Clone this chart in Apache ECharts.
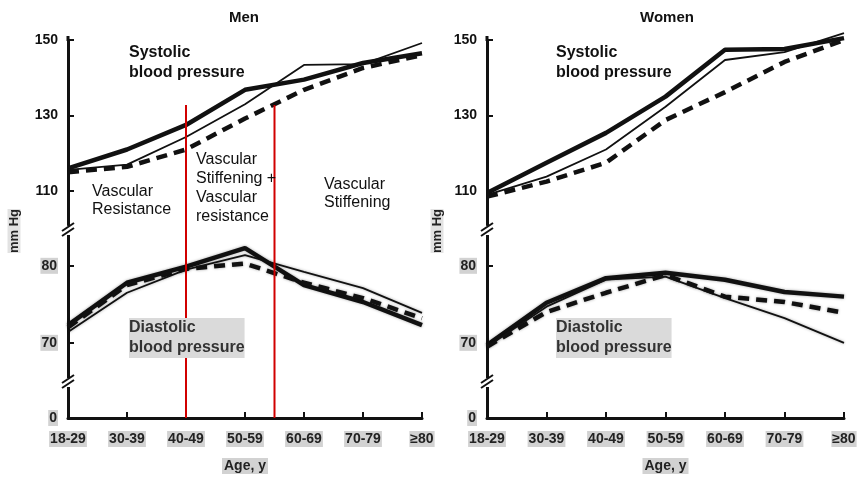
<!DOCTYPE html>
<html>
<head>
<meta charset="utf-8">
<script src="https://cdn.jsdelivr.net/npm/echarts@6/dist/echarts.min.js"></script>
<style>
  html, body { margin: 0; padding: 0; background: #fff; }
  #chart { width: 867px; height: 486px; }
</style>
</head>
<body>
<div id="chart"></div>
<script>
// age groups on the x axis
const ages = ["18-29", "30-39", "40-49", "50-59", "60-69", "70-79", "≥80"];

// Men, systolic (mm Hg)
const menSysThick = [116, 121, 127.5, 136.8, 139.5, 143.9, 146.5];
const menSysThin = [115.6, 117, 124.3, 133, 143.4, 143.6, 149.2];
const menSysDashed = [115, 116.4, 121, 129.2, 136.8, 142.6, 146];
// Men, diastolic
const menDiaThick = [72.3, 77.8, 79.9, 82.3, 77.5, 75.3, 72.3];
const menDiaThin = [71.4, 76.5, 79.5, 81.4, 79.2, 77.1, 73.9];
const menDiaDashed = [72, 77.5, 79.6, 80.3, 77.8, 75.8, 73.2];

// Women, systolic
const womenSysThick = [109.5, 117.5, 125.4, 135, 147.4, 147.6, 150.5];
const womenSysThin = [109, 113.8, 121, 132.3, 144.7, 146.8, 151.8];
const womenSysDashed = [108.5, 112.5, 117.5, 128.8, 136.2, 144.2, 150];
// Women, diastolic
const womenDiaThick = [69.7, 75.2, 78.4, 79.1, 78.2, 76.6, 76];
const womenDiaThin = [69.5, 74.7, 78.2, 78.6, 75.8, 73.2, 70];
const womenDiaDashed = [69.5, 74, 76.5, 78.8, 76, 75.3, 73.9];

// axis ticks
const sysTicks = [110, 130, 150];
const diaTicks = [70, 80];
const baseTicks = [0];

// red dividers in the men panel (category index) and their top value
const redLineAt = [2, 3.5];
const redLineTop = 132.8;

const INK = "#111";
const FONT = "Liberation Sans";
const LABEL_BG = "#d2d2d2";

const chartDom = document.getElementById("chart");
const myChart = echarts.init(chartDom);

// one panel = 3 stacked grids: systolic, diastolic, zero base
function panelGrids(left, right) {
  return [
    { left: left, right: right, top: 40, height: 185 },
    { left: left, right: right, top: 235, height: 142.5 },
    { left: left, right: right, top: 387, height: 31 },
  ];
}

function hiddenX(gridIndex) {
  return {
    gridIndex: gridIndex,
    type: "category",
    data: ages,
    boundaryGap: false,
    show: false,
  };
}

function baseX(gridIndex) {
  return {
    gridIndex: gridIndex,
    type: "category",
    data: ages,
    boundaryGap: false,
    name: "Age, y",
    nameLocation: "middle",
    nameGap: 40,
    nameTextStyle: {
      fontFamily: FONT,
      fontWeight: "bold",
      fontSize: 14,
      color: "#222",
      backgroundColor: LABEL_BG,
      padding: [1, 2],
    },
    axisLine: { show: true, lineStyle: { color: INK, width: 3 } },
    axisTick: {
      show: true,
      inside: true,
      length: 6,
      lineStyle: { color: INK, width: 2 },
    },
    axisLabel: {
      margin: 13,
      fontFamily: FONT,
      fontWeight: "bold",
      fontSize: 14,
      color: "#222",
      backgroundColor: LABEL_BG,
      padding: [1, 1],
    },
    splitLine: { show: false },
  };
}

function valueY(gridIndex, min, max, ticks, grey) {
  return {
    gridIndex: gridIndex,
    type: "value",
    min: min,
    max: max,
    axisLine: { show: true, lineStyle: { color: INK, width: 3 } },
    axisTick: {
      show: ticks.length > 0 && min !== 0,
      inside: true,
      length: 6,
      customValues: ticks,
      lineStyle: { color: INK, width: 2 },
    },
    axisLabel: {
      show: true,
      customValues: ticks,
      margin: 10,
      fontFamily: FONT,
      fontWeight: "bold",
      fontSize: 14,
      color: grey ? "#222" : INK,
      backgroundColor: grey ? LABEL_BG : "transparent",
      padding: grey ? [1, 1] : 0,
    },
    splitLine: { show: false },
  };
}

function line(name, data, gridIdx, style, dia) {
  const ls = { color: INK, width: 4.5, type: "solid" };
  if (style === "thin") ls.width = 1.8;
  if (style === "dashed") ls.type = [11, 7];
  if (dia) {
    ls.shadowColor = "rgba(0,0,0,0.35)";
    ls.shadowBlur = 3;
  }
  return {
    name: name,
    type: "line",
    xAxisIndex: gridIdx,
    yAxisIndex: gridIdx,
    data: data,
    showSymbol: false,
    symbol: "none",
    clip: false,
    lineStyle: ls,
    z: style === "thin" ? 4 : 3,
  };
}

const option = {
  animation: false,
  backgroundColor: "#fff",
  grid: [...panelGrids(68, 445), ...panelGrids(487, 23)],
  xAxis: [hiddenX(0), hiddenX(1), baseX(2), hiddenX(3), hiddenX(4), baseX(5)],
  yAxis: [
    valueY(0, 101, 150, sysTicks, false),
    valueY(1, 65.5, 84, diaTicks, true),
    valueY(2, 0, 10, baseTicks, true),
    valueY(3, 101, 150, sysTicks, false),
    valueY(4, 65.5, 84, diaTicks, true),
    valueY(5, 0, 10, baseTicks, true),
  ],
  series: [
    line("men sys thick", menSysThick, 0, "thick"),
    line("men sys thin", menSysThin, 0, "thin"),
    line("men sys dashed", menSysDashed, 0, "dashed"),
    line("men dia thick", menDiaThick, 1, "thick", true),
    line("men dia thin", menDiaThin, 1, "thin", true),
    line("men dia dashed", menDiaDashed, 1, "dashed", true),
    line("women sys thick", womenSysThick, 3, "thick"),
    line("women sys thin", womenSysThin, 3, "thin"),
    line("women sys dashed", womenSysDashed, 3, "dashed"),
    line("women dia thick", womenDiaThick, 4, "thick", true),
    line("women dia thin", womenDiaThin, 4, "thin", true),
    line("women dia dashed", womenDiaDashed, 4, "dashed", true),
  ],
};
myChart.setOption(option);

// ---- overlay: texts, axis breaks, red dividers ----
function txt(x, y, text, opts) {
  return {
    type: "text",
    x: x,
    y: y,
    z: 10,
    style: Object.assign(
      {
        text: text,
        fill: INK,
        fontFamily: FONT,
        fontSize: 16,
      },
      opts || {}
    ),
  };
}

function breakMark(x, y) {
  const marks = [];
  [0, 5].forEach((d) => {
    marks.push({
      type: "line",
      z: 11,
      shape: { x1: x - 6, y1: y + d + 3, x2: x + 6, y2: y + d - 5 },
      style: { stroke: INK, lineWidth: 2 },
    });
  });
  return marks;
}

function px(gridIdx, cat, val) {
  return myChart.convertToPixel({ xAxisIndex: gridIdx, yAxisIndex: gridIdx }, [cat, val]);
}

const graphics = [];

[0, 3].forEach((g) => {
  const axisX = px(g, 0, 110)[0];
  graphics.push(...breakMark(axisX, 228));
  graphics.push(...breakMark(axisX, 380));
  // white gap between the stacked axis segments
  graphics.push({
    type: "rect",
    z: 9,
    shape: { x: axisX - 3, y: 226, width: 6, height: 9 },
    style: { fill: "#fff" },
  });
  graphics.push({
    type: "rect",
    z: 9,
    shape: { x: axisX - 3, y: 378, width: 6, height: 9 },
    style: { fill: "#fff" },
  });
  // axis runs a little past the 150 tick
  graphics.push({
    type: "line",
    z: 9,
    shape: { x1: axisX, y1: 36, x2: axisX, y2: 41 },
    style: { stroke: INK, lineWidth: 3 },
  });
});

// red dividers
redLineAt.forEach((c) => {
  const lo = Math.floor(c);
  const hi = Math.ceil(c);
  const xPix = (px(2, lo, 0)[0] + px(2, hi, 0)[0]) / 2;
  const yTop = px(0, lo, redLineTop)[1];
  const yBot = px(2, lo, 0)[1];
  graphics.push({
    type: "line",
    z: 8,
    shape: { x1: xPix, y1: yTop, x2: xPix, y2: yBot },
    style: { stroke: "#d10000", lineWidth: 2 },
  });
});

// titles
graphics.push(txt(244, 18, "Men", { fontWeight: "bold", fontSize: 15, align: "center", verticalAlign: "middle" }));
graphics.push(txt(667, 18, "Women", { fontWeight: "bold", fontSize: 15, align: "center", verticalAlign: "middle" }));

// y axis names
[14, 437].forEach((x) => {
  graphics.push({
    type: "text",
    x: x,
    y: 231,
    rotation: Math.PI / 2,
    z: 10,
    style: {
      text: "mm Hg",
      fill: "#222",
      fontFamily: FONT,
      fontWeight: "bold",
      fontSize: 13,
      align: "center",
      verticalAlign: "middle",
      backgroundColor: "#e2e2e2",
    },
  });
});

// panel annotations
[129, 556].forEach((x) => {
  graphics.push(txt(x, 43, "Systolic\nblood pressure", { fontWeight: "bold", fontSize: 16, lineHeight: 20 }));
  graphics.push(
    txt(x, 318, "Diastolic\nblood pressure", {
      fontWeight: "bold",
      fontSize: 16,
      lineHeight: 20,
      fill: "#333",
      backgroundColor: "#dadada",
    })
  );
});

graphics.push(txt(92, 183, "Vascular\nResistance", { lineHeight: 18 }));
graphics.push(txt(196, 150, "Vascular\nStiffening +\nVascular\nresistance", { lineHeight: 19 }));
graphics.push(txt(324, 176, "Vascular\nStiffening", { lineHeight: 18 }));

myChart.setOption({ graphic: graphics });
</script>
</body>
</html>
